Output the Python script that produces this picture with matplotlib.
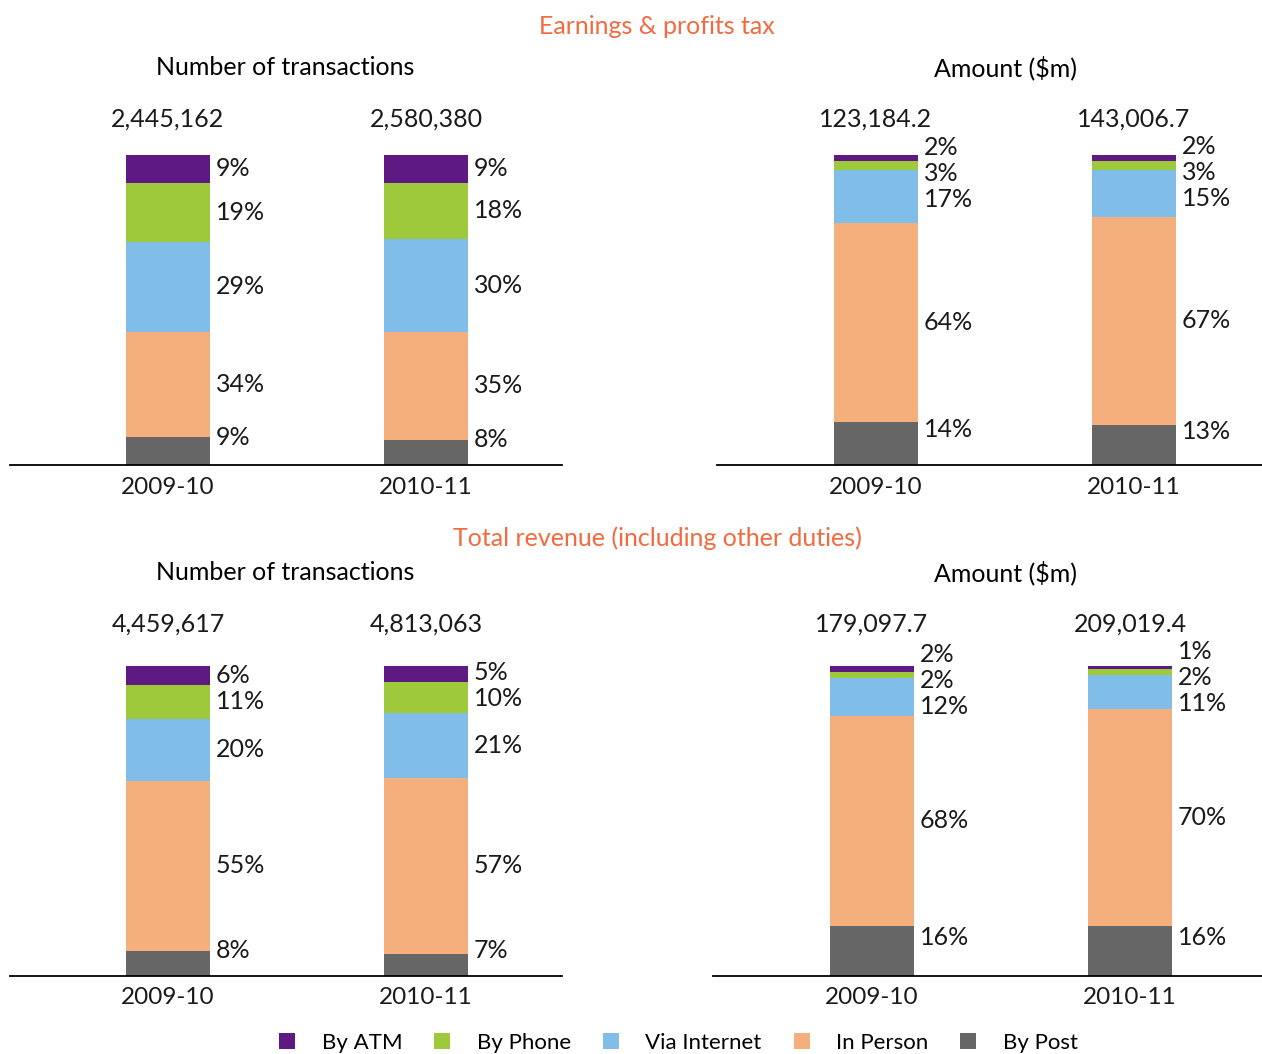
import matplotlib
matplotlib.use("Agg")
import matplotlib.pyplot as plt
from matplotlib.lines import Line2D

plt.rcParams['font.family'] = ['Lato', 'DejaVu Sans']

# --- data ---
years = ['2009-10', '2010-11']
channels = ['By ATM', 'By Phone', 'Via Internet', 'In Person', 'By Post']
colors = ['#5E1A82', '#9DC93B', '#80BDE8', '#F4AF7C', '#666666']

# Earnings & profits tax
ept_count_totals = [2445162, 2580380]
ept_count_shares = [[9, 19, 29, 34, 9], [9, 18, 30, 35, 8]]
ept_amount_totals = [123184.2, 143006.7]
ept_amount_shares = [[2, 3, 17, 64, 14], [2, 3, 15, 67, 13]]

# Total revenue (including other duties)
tot_count_totals = [4459617, 4813063]
tot_count_shares = [[6, 11, 20, 55, 8], [5, 10, 21, 57, 7]]
tot_amount_totals = [179097.7, 209019.4]
tot_amount_shares = [[2, 2, 12, 68, 16], [1, 2, 11, 70, 16]]

W, H = 1262, 1054
fig = plt.figure(figsize=(W / 100, H / 100), dpi=100)

BAR_PX = 84
STEP_PX = 258
GAP = 8.5      # min distance between labels, in % of bar height
FLOOR = 8.1    # lowest label position
LIFT = 4.3     # bottom label sits a bit above its segment centre


def spread(centres):
    # merge overlapping labels into clusters centred on their mean
    centres = list(centres)
    centres[0] = max(centres[0] + LIFT, FLOOR)
    clusters = [[c] for c in centres]  # bottom to top

    def layout():
        pos = []
        for cl in clusters:
            m = sum(cl) / len(cl)
            start = m - GAP * (len(cl) - 1) / 2
            if not pos:
                start = max(start, FLOOR)
            pos.append([start + GAP * j for j in range(len(cl))])
        return pos

    changed = True
    while changed:
        changed = False
        pos = layout()
        for i in range(len(clusters) - 1):
            if pos[i + 1][0] - pos[i][-1] < GAP:
                clusters[i] = clusters[i] + clusters.pop(i + 1)
                changed = True
                break
    return [p for grp in layout() for p in grp]


def panel(x0, x1, c0, base_y, shares, totals, fmt, total_gap):
    # x0/x1 = baseline ends, c0 = first bar centre, all in pixels
    ax = fig.add_axes([x0 / W, (H - base_y) / H, (x1 - x0) / W, 310 / H])
    ax.set_xlim(-(c0 - x0) / STEP_PX, 1 + (x1 - c0 - STEP_PX) / STEP_PX)
    ax.set_ylim(0, 100)
    width = BAR_PX / STEP_PX
    for i, sh in enumerate(shares):
        # stack from bottom (Post) upward to ATM
        bottom = 0
        order = list(range(len(channels) - 1, -1, -1))
        centres = []
        for k in order:
            ax.bar(i, sh[k], width=width, bottom=bottom, color=colors[k], linewidth=0)
            centres.append(bottom + sh[k] / 2)
            bottom += sh[k]
        for k, y in zip(order, spread(centres)):
            ax.text(i + width / 2 + 6 / STEP_PX, y, f'{sh[k]}%', ha='left', va='center',
                    fontsize=18, color='#1a1a1a')
        ax.text(i, 100 + total_gap, fmt.format(totals[i]), ha='center', va='center',
                fontsize=18, color='#1a1a1a')
        ax.text(i, -22 / 3.1, years[i], ha='center', va='center', fontsize=17.5,
                color='#1a1a1a')
    for s in ['top', 'right', 'left']:
        ax.spines[s].set_visible(False)
    ax.spines['bottom'].set_linewidth(1.3)
    ax.set_xticks([])
    ax.set_yticks([])
    ax.patch.set_alpha(0)
    return ax


panel(10, 562, 168, 465, ept_count_shares, ept_count_totals, '{:,}', 36 / 3.1)
panel(717, 1262, 876, 465, ept_amount_shares, ept_amount_totals, '{:,.1f}', 36 / 3.1)
panel(10, 562, 168, 976, tot_count_shares, tot_count_totals, '{:,}', 42 / 3.1)
panel(713, 1262, 872, 976, tot_amount_shares, tot_amount_totals, '{:,.1f}', 42 / 3.1)

orange = '#F26A3F'
fig.text(657 / W, 1 - 26 / H, 'Earnings & profits tax', ha='center', va='center',
         fontsize=18, color=orange)
fig.text(657 / W, 1 - 538 / H, 'Total revenue (including other duties)', ha='center',
         va='center', fontsize=18, color=orange)
for y in [68, 573]:
    fig.text(285 / W, 1 - y / H, 'Number of transactions', ha='center', va='center',
             fontsize=18, color='black')
    fig.text(1005 / W, 1 - y / H, 'Amount ($m)', ha='center', va='center',
             fontsize=18, color='black')

handles = [Line2D([], [], marker='s', linestyle='none', markersize=11,
                  markerfacecolor=c, markeredgewidth=0) for c in colors]
fig.legend(handles, channels, loc='center', bbox_to_anchor=(677 / W, 1 - 1043 / H),
           ncol=5, frameon=False, fontsize=16, handletextpad=1.05, columnspacing=1.3,
           handlelength=1.0, borderpad=0, borderaxespad=0)

fig.savefig('out.png', dpi=100)
